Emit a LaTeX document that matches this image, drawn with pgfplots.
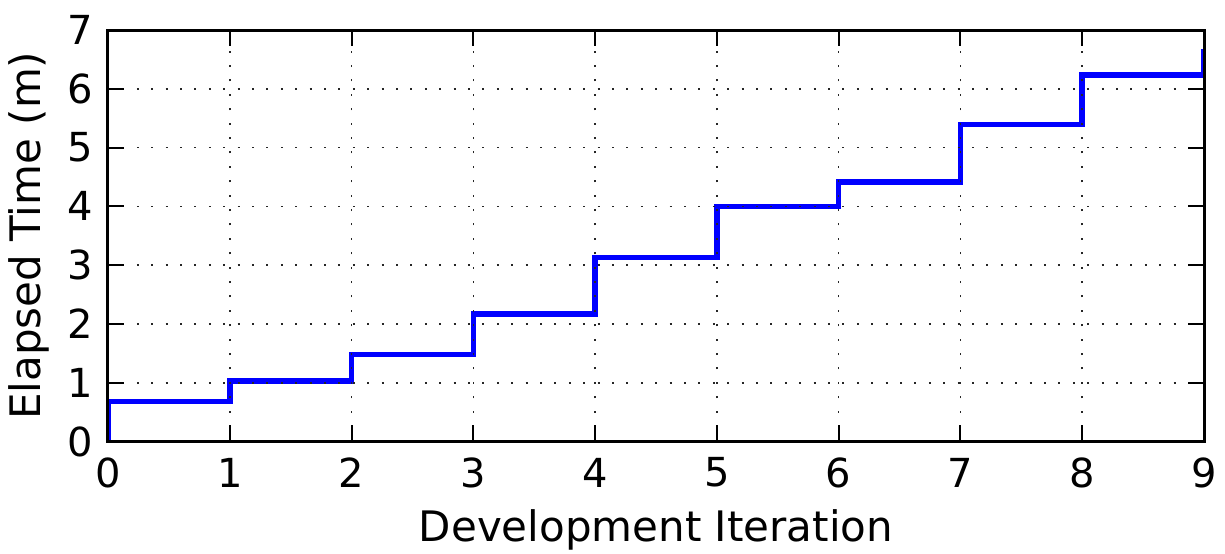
\documentclass[border=0pt]{standalone}
\usepackage{pgfplots}
\pgfplotsset{compat=1.18}
\usepackage{fontspec}
\setmainfont{DejaVu Sans}
\begin{document}
\begin{tikzpicture}
\begin{axis}[
  name=ax,
  scale only axis,
  width=548pt, height=205.75pt,
  xmin=0, xmax=9, ymin=0, ymax=7,
  xtick={0,...,9}, ytick={0,...,7},
  tick pos=both, tick align=inside,
  major tick length=8pt,
  tick style={black, line width=1pt},
  axis line style={black, line width=1.5pt},
  grid=major,
  major grid style={black!85, line width=0.8pt, dash pattern=on 1pt off 6.2pt},
  axis on top,
  /pgf/number format/assume math mode=true,
  tick label style={font=\fontsize{20}{24}\selectfont},
  label style={font=\fontsize{21}{25}\selectfont},
  xticklabel style={anchor=center, yshift=-15.5pt},
  yticklabel style={anchor=east, inner sep=0pt, xshift=-7.5pt},
  xlabel={Development Iteration},
  ylabel={Elapsed Time (m)},
  xlabel style={at={(axis description cs:0.5,0)}, anchor=center, yshift=-44pt},
  ylabel style={at={(axis description cs:0,0.5)}, anchor=center, yshift=39.5pt},
]
\addplot[blue, line width=2.8pt, line join=miter] coordinates {
(0,0) (0,0.68) (1,0.68) (1,1.03) (2,1.03) (2,1.48) (3,1.48) (3,2.17)
(4,2.17) (4,3.13) (5,3.13) (5,4.0) (6,4.0) (6,4.41) (7,4.41) (7,5.39)
(8,5.39) (8,6.23) (9,6.23) (9,6.68)
};
\end{axis}
\pgfresetboundingbox
\path ([shift={(-54pt,-56pt)}]ax.south west) rectangle ([shift={(10.5pt,15pt)}]ax.north east);
\end{tikzpicture}
\end{document}
